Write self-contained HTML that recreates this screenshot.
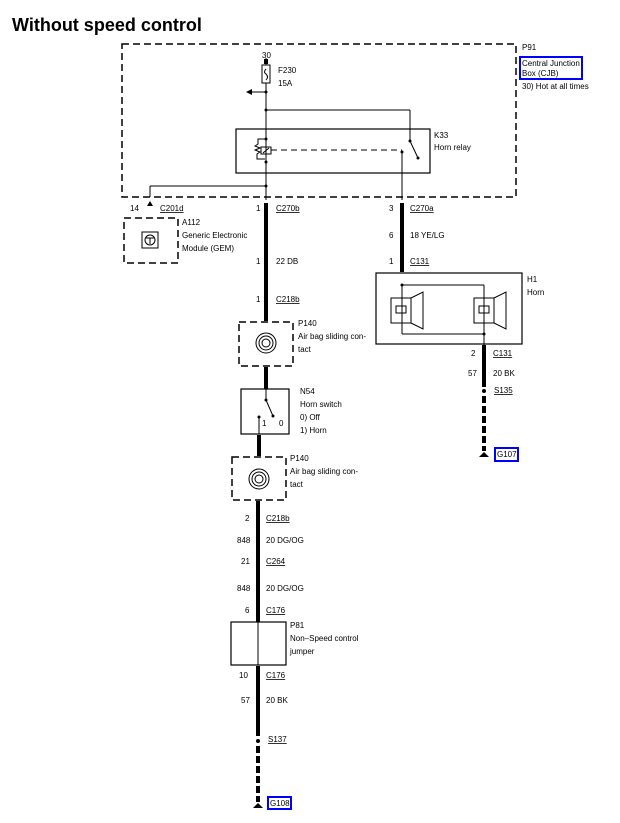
<!DOCTYPE html><html><head><style>body{margin:0;background:#fff}svg{display:block}text{font-family:"Liberation Sans",sans-serif;font-size:8px;fill:#000}</style></head><body>
<svg width="620" height="823" viewBox="0 0 620 823">
<text x="12" y="31" style="font-size:18px;font-weight:bold">Without speed control</text>
<g fill="none" stroke="#000" stroke-width="1.5" stroke-dasharray="7,4">
<rect x="122" y="44" width="394" height="153"/>
<rect x="124" y="218" width="54" height="45"/>
<rect x="239" y="322" width="54" height="44"/>
<rect x="232" y="457" width="54" height="43"/>
</g>
<g stroke="#000" fill="none" stroke-width="1">
<line x1="266" y1="58" x2="266" y2="200"/>
<rect x="262" y="65" width="8" height="18" fill="#fff"/>
<path d="M266 69 q-3 3 0 5 q3 3 0 6"/>
<line x1="266" y1="92" x2="252" y2="92"/>
<line x1="266" y1="110" x2="410" y2="110"/><line x1="410" y1="110" x2="410" y2="141"/>
<line x1="410" y1="141" x2="418" y2="158"/>
<rect x="236" y="129" width="194" height="44" stroke-width="1.2"/>
<rect x="261" y="147" width="10" height="7"/><line x1="263" y1="153" x2="269" y2="148"/>
<path d="M266 139 h-8 v5 l-3 2 l5 2 l-5 2 l5 2 l-3 2 v5 h8"/>
<line x1="271" y1="150" x2="402" y2="150" stroke-dasharray="6,4"/>
<line x1="402" y1="152" x2="402" y2="200"/>
<line x1="266" y1="186" x2="150" y2="186"/><line x1="150" y1="186" x2="150" y2="197"/>
<rect x="142" y="232" width="16" height="16"/><circle cx="150" cy="240" r="5"/><path d="M146 238 h8 M150 238 v6"/>
<rect x="241" y="389" width="48" height="45" stroke-width="1.2"/>
<line x1="266" y1="389" x2="266" y2="400"/><line x1="266" y1="400" x2="273" y2="416"/>
<line x1="259" y1="417" x2="259" y2="434"/>
<rect x="231" y="622" width="55" height="43" stroke-width="1.2"/>
<line x1="258" y1="622" x2="258" y2="665"/>
<rect x="376" y="273" width="146" height="71" stroke-width="1.2"/>
<line x1="402" y1="285" x2="484" y2="285"/><line x1="402" y1="285" x2="402" y2="334"/><line x1="402" y1="334" x2="484" y2="334"/><line x1="484" y1="285" x2="484" y2="352"/>
<rect x="391" y="298" width="20" height="25"/><path d="M411 298 l12 -6 v37 l-12 -6"/><rect x="396" y="306" width="10" height="7"/>
<rect x="474" y="298" width="20" height="25"/><path d="M494 298 l12 -6 v37 l-12 -6"/><rect x="479" y="306" width="10" height="7"/>
<circle cx="266" cy="343" r="10"/><circle cx="266" cy="343" r="7"/><circle cx="266" cy="343" r="4"/>
<circle cx="259" cy="479" r="10"/><circle cx="259" cy="479" r="7"/><circle cx="259" cy="479" r="4"/>
</g>
<g fill="#000">
<circle cx="266" cy="92" r="1.5"/><circle cx="266" cy="110" r="1.5"/><circle cx="266" cy="139" r="1.5"/><circle cx="266" cy="162" r="1.5"/><circle cx="266" cy="186" r="1.5"/>
<circle cx="410" cy="141" r="1.5"/><circle cx="418" cy="158" r="1.5"/><circle cx="402" cy="152" r="1.5"/>
<circle cx="402" cy="285" r="1.5"/><circle cx="484" cy="334" r="1.5"/>
<circle cx="266" cy="400" r="1.5"/><circle cx="273" cy="416" r="1.5"/><circle cx="259" cy="417" r="1.5"/>
<rect x="264" y="59" width="4" height="5"/>
<path d="M246 92 l6 -3 v6z"/><path d="M150 201 l-3 5 h6z"/>
<rect x="264" y="203" width="4" height="118"/><rect x="264" y="367" width="4" height="22"/>
<rect x="257" y="435" width="4" height="21"/><rect x="256" y="501" width="4" height="121"/>
<rect x="256" y="666" width="4" height="70"/>
<rect x="400" y="203" width="4" height="69"/>
<rect x="482" y="345" width="4" height="42"/>
<circle cx="258" cy="741" r="2"/><circle cx="484" cy="391" r="2"/>
<path d="M253 808 l5 -5 l5 5z"/><path d="M479 457 l5 -5 l5 5z"/>
</g>
<g stroke="#000" stroke-width="4" stroke-dasharray="7,3"><line x1="258" y1="746" x2="258" y2="802"/><line x1="484" y1="396" x2="484" y2="451"/></g>
<text x="262" y="58">30</text><text x="278" y="73">F230</text><text x="278" y="86">15A</text>
<text x="434" y="138">K33</text><text x="434" y="150">Horn relay</text>
<text x="522" y="50">P91</text>
<rect x="520" y="57" width="62" height="22" fill="none" stroke="#00f" stroke-width="2"/>
<text x="522" y="66">Central Junction</text><text x="522" y="76">Box (CJB)</text><text x="522" y="89">30)   Hot at all times</text>
<text x="130" y="211">14</text><text x="160" y="211" text-decoration="underline">C201d</text>
<text x="182" y="225">A112</text><text x="182" y="238">Generic Electronic</text><text x="182" y="251">Module (GEM)</text>
<text x="256" y="211">1</text><text x="276" y="211" text-decoration="underline">C270b</text>
<text x="256" y="264">1</text><text x="276" y="264">22 DB</text>
<text x="256" y="302">1</text><text x="276" y="302" text-decoration="underline">C218b</text>
<text x="298" y="326">P140</text><text x="298" y="339">Air bag sliding con-</text><text x="298" y="352">tact</text>
<text x="300" y="394">N54</text><text x="300" y="407">Horn switch</text><text x="300" y="420">0)     Off</text><text x="300" y="433">1)     Horn</text>
<text x="262" y="426">1</text><text x="279" y="426">0</text>
<text x="290" y="461">P140</text><text x="290" y="474">Air bag sliding con-</text><text x="290" y="487">tact</text>
<text x="245" y="521">2</text><text x="266" y="521" text-decoration="underline">C218b</text>
<text x="237" y="543">848</text><text x="266" y="543">20 DG/OG</text>
<text x="241" y="564">21</text><text x="266" y="564" text-decoration="underline">C264</text>
<text x="237" y="591">848</text><text x="266" y="591">20 DG/OG</text>
<text x="245" y="613">6</text><text x="266" y="613" text-decoration="underline">C176</text>
<text x="290" y="628">P81</text><text x="290" y="641">Non–Speed control</text><text x="290" y="654">jumper</text>
<text x="239" y="678">10</text><text x="266" y="678" text-decoration="underline">C176</text>
<text x="241" y="703">57</text><text x="266" y="703">20 BK</text>
<text x="268" y="742" text-decoration="underline">S137</text>
<rect x="268" y="797" width="23" height="12" fill="none" stroke="#00f" stroke-width="2"/><text x="270" y="806">G108</text>
<text x="389" y="211">3</text><text x="410" y="211" text-decoration="underline">C270a</text>
<text x="389" y="238">6</text><text x="410" y="238">18 YE/LG</text>
<text x="389" y="264">1</text><text x="410" y="264" text-decoration="underline">C131</text>
<text x="527" y="282">H1</text><text x="527" y="295">Horn</text>
<text x="471" y="356">2</text><text x="493" y="356" text-decoration="underline">C131</text>
<text x="468" y="376">57</text><text x="493" y="376">20 BK</text>
<text x="494" y="393" text-decoration="underline">S135</text>
<rect x="495" y="448" width="23" height="13" fill="none" stroke="#00f" stroke-width="2"/><text x="497" y="457">G107</text>
</svg></body></html>
